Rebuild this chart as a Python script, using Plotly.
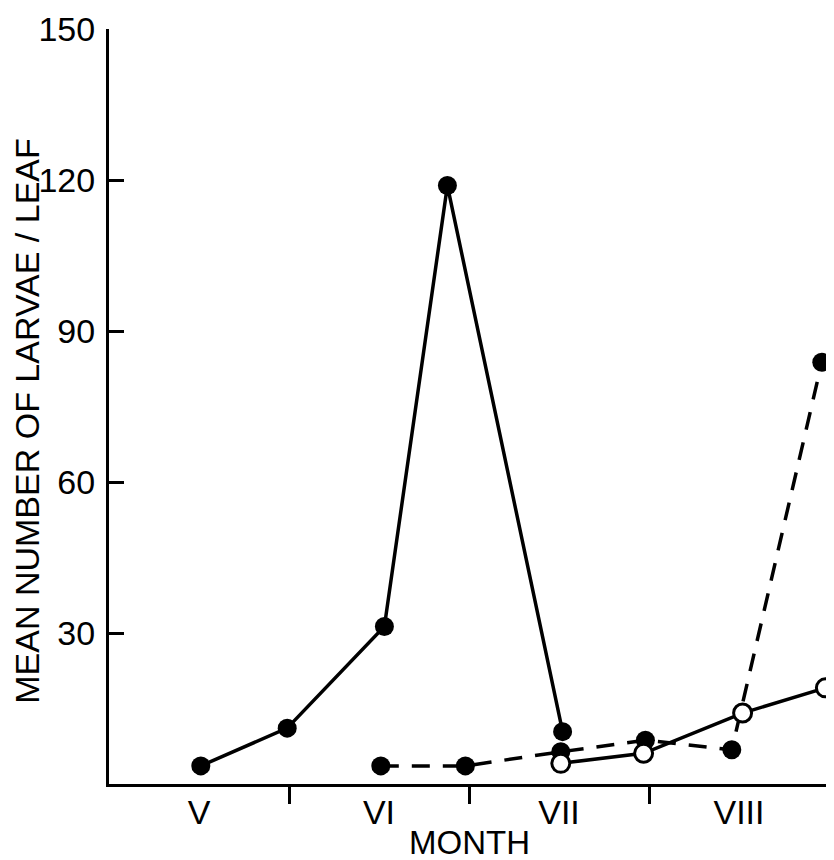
import plotly.graph_objects as go

# Larval counts per leaf, x = months since start of May (V=0..1, VI=1..2, ...)
solid_x = [0.51, 0.99, 1.53, 1.88, 2.52]
solid_y = [3.6, 11.1, 31.3, 118.9, 10.4]

dashed_x = [1.51, 1.98, 2.51, 2.98, 3.46, 3.96]
dashed_y = [3.6, 3.6, 6.4, 8.7, 6.8, 83.8]

open_x = [2.51, 2.97, 3.52, 3.98]
open_y = [4.1, 6.1, 14.1, 19.1]

month_pos = [0.5, 1.5, 2.5, 3.5]
month_labels = ["V", "VI", "VII", "VIII"]
month_edges = [1, 2, 3, 4]
y_ticks = [30, 60, 90, 120, 150]

FONT = "Liberation Sans, Arial, sans-serif"

fig = go.Figure()

fig.add_trace(go.Scatter(
    x=solid_x, y=solid_y, mode="lines+markers",
    line=dict(color="black", width=3.5),
    marker=dict(size=19, color="black"),
    cliponaxis=False))

fig.add_trace(go.Scatter(
    x=dashed_x, y=dashed_y, mode="lines+markers",
    line=dict(color="black", width=3.5, dash="18px,13px"),
    marker=dict(size=19, color="black"),
    cliponaxis=False))

fig.add_trace(go.Scatter(
    x=open_x, y=open_y, mode="lines+markers",
    line=dict(color="black", width=3.5),
    marker=dict(size=18, color="white", line=dict(color="black", width=3)),
    cliponaxis=False))

fig.update_xaxes(
    range=[0, 4], showgrid=False, zeroline=False, automargin=False,
    showline=True, linecolor="black", linewidth=3,
    tickvals=month_pos, ticktext=month_labels, ticks="",
    ticklabelstandoff=-4,
    tickfont=dict(family=FONT, size=34, color="black"),
    minor=dict(tickvals=month_edges, ticks="outside", ticklen=17,
               tickwidth=3, tickcolor="black"))

fig.update_yaxes(
    range=[0, 150], showgrid=False, zeroline=False, automargin=False,
    showline=True, linecolor="black", linewidth=3,
    tickvals=y_ticks, ticks="inside", ticklen=15, tickwidth=3,
    tickcolor="black", ticklabelstandoff=4,
    tickfont=dict(family=FONT, size=34, color="black"))

fig.add_annotation(
    text="MEAN NUMBER OF LARVAE / LEAF", textangle=-90,
    xref="paper", yref="paper", x=-0.114, y=0.481,
    xanchor="center", yanchor="middle", showarrow=False,
    font=dict(family=FONT, size=34, color="black"))

fig.add_annotation(
    text="MONTH", xref="paper", yref="paper", x=0.5, y=-0.077,
    xanchor="center", yanchor="middle", showarrow=False,
    font=dict(family=FONT, size=33, color="black"))

# page body has an 8px margin, so the figure is a bit smaller than the window
fig.update_layout(
    width=826, height=852,
    margin=dict(l=101, r=5, t=21, b=76),
    paper_bgcolor="white", plot_bgcolor="white",
    showlegend=False)

fig.write_html("out.html")
